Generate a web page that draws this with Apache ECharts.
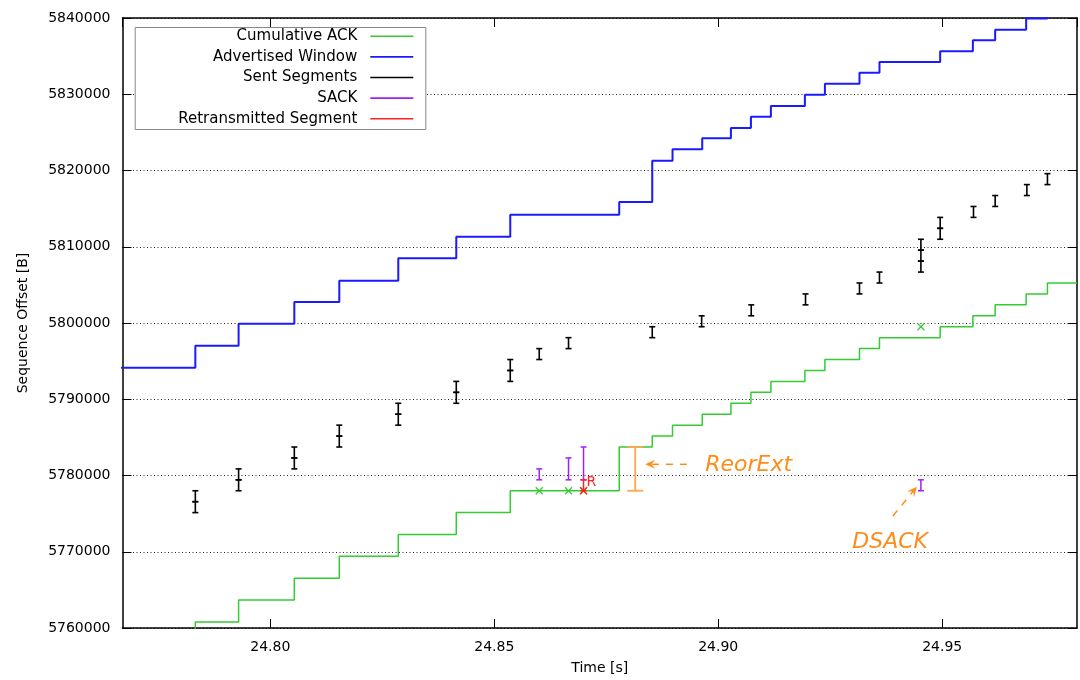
<!DOCTYPE html>
<html>
<head>
<meta charset="utf-8">
<title>TCP sequence trace</title>
<script src="https://cdn.jsdelivr.net/npm/echarts@6/dist/echarts.min.js"></script>
<style>
  html, body { margin: 0; padding: 0; background: #fff; }
  #chart { width: 1080px; height: 680px; }
</style>
</head>
<body>
<div id="chart"></div>
<script>
// ---- trace data ----
// times [s] at which the cumulative ACK / advertised window change
const ackTimes = [24.7600, 24.78326, 24.79292, 24.80536, 24.81540, 24.82857, 24.84152, 24.85357,
  24.87790, 24.88527, 24.88980, 24.89643, 24.90283, 24.90730, 24.91176, 24.91935, 24.92382,
  24.93154, 24.93600, 24.94955, 24.95685, 24.96183, 24.96875, 24.97350];
// cumulative ACK sequence number [B]
const ackSeq = [5757924, 5760792, 5763660, 5766528, 5769396, 5772264, 5775132, 5778000,
  5783736, 5785170, 5786604, 5788038, 5789472, 5790906, 5792340, 5793774, 5795208,
  5796642, 5798076, 5799510, 5800944, 5802378, 5803812, 5805246];
// right edge of the advertised receive window [B]
const windowEdge = [5794138, 5797024, 5799910, 5802754, 5805549, 5808486, 5811319, 5814204,
  5815869, 5821287, 5822781, 5824224, 5825574, 5827056, 5828459, 5829941, 5831384,
  5832826, 5834229, 5835633, 5837076, 5838466, 5839920, 5841350];
const traceEnd = 24.9801;

// sent segments: [time, first byte, end byte]
const sentSegments = [
  [24.78326, 5775132, 5776566], [24.78326, 5776566, 5778000],
  [24.79292, 5778000, 5779434], [24.79292, 5779434, 5780868],
  [24.80536, 5780868, 5782302], [24.80536, 5782302, 5783736],
  [24.81540, 5783736, 5785170], [24.81540, 5785170, 5786604],
  [24.82857, 5786604, 5788038], [24.82857, 5788038, 5789472],
  [24.84152, 5789472, 5790906], [24.84152, 5790906, 5792340],
  [24.85357, 5792340, 5793774], [24.85357, 5793774, 5795208],
  [24.86004, 5795208, 5796642],
  [24.86658, 5796642, 5798076],
  [24.88527, 5798076, 5799510],
  [24.89630, 5799510, 5800944],
  [24.90737, 5800944, 5802378],
  [24.91949, 5802378, 5803812],
  [24.93154, 5803812, 5805246],
  [24.93600, 5805246, 5806680],
  [24.94525, 5806680, 5808114], [24.94525, 5808114, 5809548], [24.94525, 5809548, 5810982],
  [24.94955, 5810982, 5812416], [24.94955, 5812416, 5813850],
  [24.95699, 5813850, 5815284],
  [24.96183, 5815284, 5816718],
  [24.96891, 5816718, 5818152],
  [24.97350, 5818152, 5819586]
];
// selective ACK blocks (the last one is a duplicate SACK)
const sackBlocks = [
  [24.86004, 5779434, 5780868],
  [24.86658, 5779434, 5782302],
  [24.86993, 5779434, 5783736],
  [24.94525, 5778000, 5779434]
];
// duplicate ACKs
const dupAcks = [[24.86004, 5778000], [24.86658, 5778000], [24.86993, 5778000], [24.94525, 5799510]];
// retransmitted segment
const retransmissions = [[24.86993, 5778000, 5779434]];
// reordering extent
const reorderExtent = [[24.88147, 5778000, 5783736]];

// text notes and arrows
const noteLabels = ['ReorExt', 'DSACK'];
const noteAnchors = [[24.89710, 5781377], [24.93839, 5771300]];
const noteAligns = ['left', 'center'];
const noteArrows = [
  [24.89301, 5781469, 24.88371, 5781469],
  [24.93900, 5774689, 24.94435, 5778531]
];

const C_ACK = '#33cc33', C_WIN = '#1a1aff', C_SENT = '#000000', C_SACK = '#a020f0',
      C_RTX = '#ff2020', C_ORANGE = '#ff8c1a';
const FONT = 'DejaVu Sans';

// vertical bar with end caps (error-bar style)
function rangeBar(color, halfCap, width) {
  return function (params, api) {
    const t = api.value(0), lo = api.value(1), hi = api.value(2);
    const a = api.coord([t, lo]), b = api.coord([t, hi]);
    const x = a[0];
    const st = { stroke: color, lineWidth: width };
    return {
      type: 'group',
      children: [
        { type: 'line', shape: { x1: x, y1: a[1], x2: x, y2: b[1] }, style: st },
        { type: 'line', shape: { x1: x - halfCap, y1: a[1], x2: x + halfCap, y2: a[1] }, style: st },
        { type: 'line', shape: { x1: x - halfCap, y1: b[1], x2: x + halfCap, y2: b[1] }, style: st }
      ]
    };
  };
}

function crossMark(params, api) {
  const p = api.coord([api.value(0), api.value(1)]);
  const s = 3.5, st = { stroke: C_ACK, lineWidth: 1.2 };
  return {
    type: 'group',
    children: [
      { type: 'line', shape: { x1: p[0] - s, y1: p[1] - s, x2: p[0] + s, y2: p[1] + s }, style: st },
      { type: 'line', shape: { x1: p[0] - s, y1: p[1] + s, x2: p[0] + s, y2: p[1] - s }, style: st }
    ]
  };
}

function retransBar(params, api) {
  const g = rangeBar(C_RTX, 3, 1.5)(params, api);
  const t = api.value(0), hi = api.value(2), lo = api.value(1);
  const top = api.coord([t, hi]), bot = api.coord([t, lo]);
  const s = 3.5, st = { stroke: C_RTX, lineWidth: 1.2 };
  g.children.push(
    { type: 'line', shape: { x1: bot[0] - s, y1: bot[1] - s, x2: bot[0] + s, y2: bot[1] + s }, style: st },
    { type: 'line', shape: { x1: bot[0] - s, y1: bot[1] + s, x2: bot[0] + s, y2: bot[1] - s }, style: st },
    { type: 'text', x: top[0] + 3, y: top[1] + 3,
      style: { text: 'R', fill: C_RTX, font: '14px ' + FONT, verticalAlign: 'middle', align: 'left' } }
  );
  return g;
}

function noteText(params, api) {
  const i = params.dataIndex;
  const p = api.coord(noteAnchors[i]);
  return {
    type: 'text', x: p[0], y: p[1],
    style: { text: noteLabels[i], fill: C_ORANGE, font: 'italic 22px ' + FONT,
             align: noteAligns[i], verticalAlign: 'middle' }
  };
}

function noteArrow(params, api) {
  const r = noteArrows[params.dataIndex];
  const a = api.coord([r[0], r[1]]), b = api.coord([r[2], r[3]]);
  const dx = b[0] - a[0], dy = b[1] - a[1];
  const len = Math.hypot(dx, dy), ux = dx / len, uy = dy / len;
  const L = 10, W = 4.5, N = 6;
  const bx = b[0] - ux * L, by = b[1] - uy * L;
  const pts = [
    [b[0], b[1]],
    [bx - uy * W, by + ux * W],
    [b[0] - ux * N, b[1] - uy * N],
    [bx + uy * W, by - ux * W]
  ];
  return {
    type: 'group',
    children: [
      { type: 'line', shape: { x1: a[0], y1: a[1], x2: b[0] - ux * N, y2: b[1] - uy * N },
        style: { stroke: C_ORANGE, lineWidth: 1.5, lineDash: [7, 7] } },
      { type: 'polygon', shape: { points: pts }, style: { fill: C_ORANGE } }
    ]
  };
}

const ackLine = ackTimes.map((t, i) => [t, ackSeq[i]]).concat([[traceEnd, ackSeq[ackSeq.length - 1]]]);
const winLine = ackTimes.map((t, i) => [t, windowEdge[i]]).concat([[traceEnd, windowEdge[windowEdge.length - 1]]]);

const axisCommon = {
  axisLine: { show: true, onZero: false, lineStyle: { color: '#000', width: 1.5 } },
  axisTick: { show: true, inside: true, length: 9, lineStyle: { color: '#000', width: 1 } }
};

const chart = echarts.init(document.getElementById('chart'), null, { renderer: 'canvas' });
chart.setOption({
  animation: false,
  backgroundColor: '#fff',
  textStyle: { fontFamily: FONT },
  grid: { left: 122.5, right: 3, top: 18, bottom: 52, containLabel: false },
  xAxis: [
    Object.assign({
      type: 'value', position: 'bottom', min: 24.767, max: traceEnd,
      name: 'Time [s]', nameLocation: 'middle', nameGap: 33,
      nameTextStyle: { color: '#000', fontSize: 14, fontFamily: FONT },
      axisLabel: { color: '#000', fontSize: 14, fontFamily: FONT, margin: 12,
        showMinLabel: false, showMaxLabel: false, formatter: v => v.toFixed(2) },
      splitLine: { show: false }
    }, axisCommon),
    Object.assign({
      type: 'value', position: 'top', min: 24.767, max: traceEnd,
      axisLabel: { show: false }, splitLine: { show: false }
    }, axisCommon)
  ],
  yAxis: [
    Object.assign({
      type: 'value', position: 'left', min: 5760000, max: 5840000, interval: 10000,
      name: 'Sequence Offset [B]', nameLocation: 'middle', nameGap: 92, nameRotate: 90,
      nameTextStyle: { color: '#000', fontSize: 14, fontFamily: FONT },
      axisLabel: { color: '#000', fontSize: 14, fontFamily: FONT, margin: 12, formatter: v => String(v) },
      splitLine: { show: true, lineStyle: { color: '#222', width: 1, type: [1, 2.5] } }
    }, axisCommon),
    Object.assign({
      type: 'value', position: 'right', min: 5760000, max: 5840000, interval: 10000,
      axisLabel: { show: false }, splitLine: { show: false }
    }, axisCommon)
  ],
  legend: {
    orient: 'vertical', align: 'right', right: 666.7, top: 28.3, padding: 0,
    itemWidth: 43, itemHeight: 1.6, itemGap: 4.6, selectedMode: false, z: 5,
    textStyle: { fontSize: 15, lineHeight: 16, color: '#000', fontFamily: FONT, padding: [0, 8, 0, 0] },
    data: [
      { name: 'Cumulative ACK', icon: 'rect', itemStyle: { color: C_ACK } },
      { name: 'Advertised Window', icon: 'rect', itemStyle: { color: C_WIN } },
      { name: 'Sent Segments', icon: 'rect', itemStyle: { color: C_SENT } },
      { name: 'SACK', icon: 'rect', itemStyle: { color: C_SACK } },
      { name: 'Retransmitted Segment', icon: 'rect', itemStyle: { color: C_RTX } }
    ]
  },
  graphic: [{
    type: 'rect', left: 134.7, top: 27, z: 3,
    shape: { width: 290.6, height: 102 },
    style: { fill: '#fff', stroke: '#888', lineWidth: 1 }
  }],
  series: [
    { name: 'Cumulative ACK', type: 'line', step: 'end', data: ackLine, showSymbol: false, symbol: 'none',
      lineStyle: { color: C_ACK, width: 1.5 }, itemStyle: { color: C_ACK }, clip: true, z: 2 },
    { name: 'Advertised Window', type: 'line', step: 'end', data: winLine, showSymbol: false, symbol: 'none',
      lineStyle: { color: C_WIN, width: 2 }, itemStyle: { color: C_WIN }, clip: true, z: 2 },
    { name: 'Sent Segments', type: 'custom', data: sentSegments, renderItem: rangeBar(C_SENT, 3, 1.6),
      encode: { x: 0, y: [1, 2] }, itemStyle: { color: C_SENT }, clip: true, z: 3 },
    { name: 'SACK', type: 'custom', data: sackBlocks, renderItem: rangeBar(C_SACK, 3, 1.5),
      encode: { x: 0, y: [1, 2] }, itemStyle: { color: C_SACK }, clip: true, z: 3 },
    { name: 'dupAck', type: 'custom', data: dupAcks, renderItem: crossMark,
      encode: { x: 0, y: 1 }, clip: true, z: 3 },
    { name: 'Retransmitted Segment', type: 'custom', data: retransmissions, renderItem: retransBar,
      encode: { x: 0, y: [1, 2] }, itemStyle: { color: C_RTX }, clip: true, z: 4 },
    { name: 'reorder', type: 'custom', data: reorderExtent, renderItem: rangeBar('#ffa64d', 8, 1.8),
      encode: { x: 0, y: [1, 2] }, clip: true, z: 3 },
    { name: 'noteArrows', type: 'custom', data: noteArrows.map(r => [r[2], r[3]]), renderItem: noteArrow,
      encode: { x: 0, y: 1 }, z: 4, silent: true },
    { name: 'noteText', type: 'custom', data: noteAnchors, renderItem: noteText,
      encode: { x: 0, y: 1 }, z: 4, silent: true }
  ]
});
</script>
</body>
</html>
